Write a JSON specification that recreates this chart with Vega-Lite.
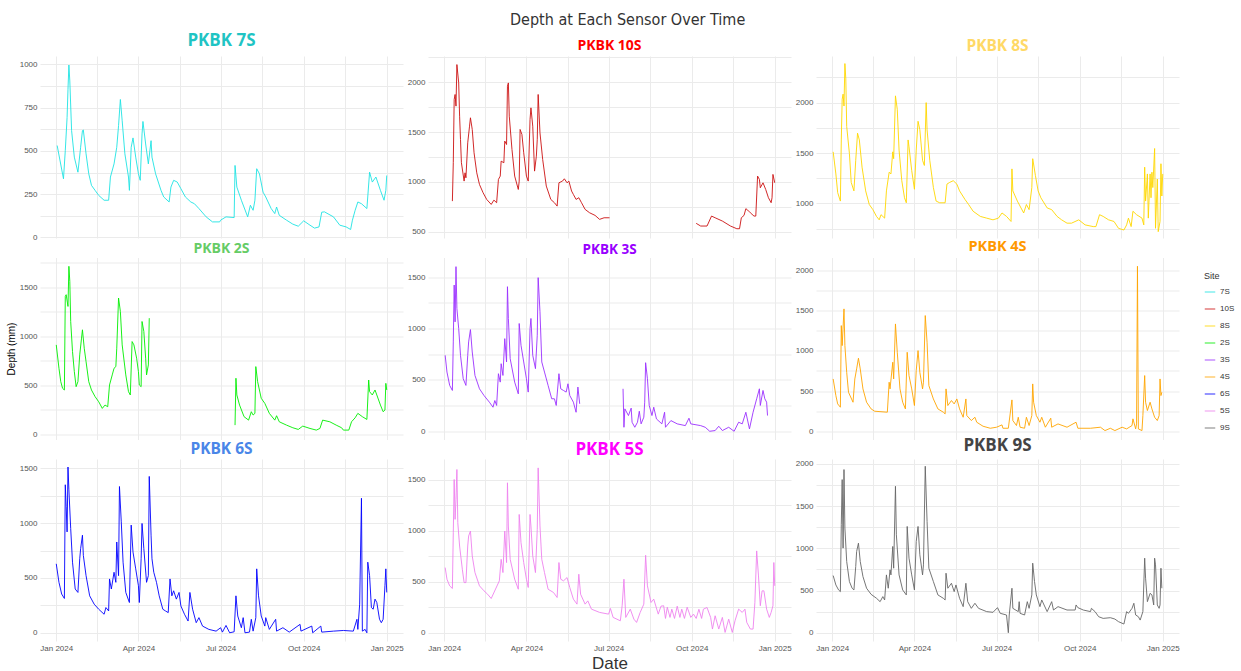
{
"$schema":"https://vega.github.io/schema/vega-lite/v6.json",
"padding":{"left":6,"top":12,"right":5,"bottom":4},
"title":{"text":"Depth at Each Sensor Over Time","font":"Liberation Sans Narrow, Arial Narrow, DejaVu Sans Condensed, Liberation Sans, sans-serif","fontSize":16,"fontWeight":"normal","color":"#333333","anchor":"middle","offset":4,"dx":7},
"config":{
"view":{"stroke":null},
"font":"Liberation Sans",
"axis":{"domain":false,"ticks":false,"gridColor":"#EBEBEB","gridWidth":1,"labelColor":"#555555","labelFontSize":8,"labelPadding":3,"titleFontWeight":"normal"},
"title":{"font":"Open Sans","fontSize":16,"fontWeight":"bold","anchor":"middle","offset":5},
"legend":{"symbolType":"stroke","symbolSize":110,"symbolStrokeWidth":1.5,"symbolOpacity":0.55,"labelFontSize":8,"labelColor":"#333333","titleFontSize":9,"titleFontWeight":"normal","titleColor":"#333333","rowPadding":7}
},
"datasets":{
"s7S":[{"d":"2024-01-02","v":531},{"d":"2024-01-09","v":339},{"d":"2024-01-11","v":502},{"d":"2024-01-13","v":693},{"d":"2024-01-14","v":856},{"d":"2024-01-15","v":996},{"d":"2024-01-16","v":904},{"d":"2024-01-18","v":617},{"d":"2024-01-21","v":464},{"d":"2024-01-25","v":377},{"d":"2024-01-28","v":521},{"d":"2024-01-30","v":617},{"d":"2024-01-31","v":621},{"d":"2024-02-03","v":483},{"d":"2024-02-06","v":368},{"d":"2024-02-09","v":301},{"d":"2024-02-13","v":272},{"d":"2024-02-17","v":243},{"d":"2024-02-23","v":215},{"d":"2024-02-28","v":215},{"d":"2024-03-01","v":349},{"d":"2024-03-05","v":425},{"d":"2024-03-08","v":521},{"d":"2024-03-10","v":646},{"d":"2024-03-12","v":797},{"d":"2024-03-14","v":674},{"d":"2024-03-17","v":483},{"d":"2024-03-21","v":349},{"d":"2024-03-22","v":272},{"d":"2024-03-24","v":521},{"d":"2024-03-26","v":575},{"d":"2024-03-29","v":464},{"d":"2024-04-01","v":368},{"d":"2024-04-03","v":330},{"d":"2024-04-05","v":598},{"d":"2024-04-06","v":670},{"d":"2024-04-09","v":540},{"d":"2024-04-12","v":425},{"d":"2024-04-15","v":559},{"d":"2024-04-16","v":464},{"d":"2024-04-20","v":368},{"d":"2024-04-26","v":272},{"d":"2024-04-29","v":234},{"d":"2024-05-05","v":205},{"d":"2024-05-07","v":291},{"d":"2024-05-10","v":330},{"d":"2024-05-14","v":320},{"d":"2024-05-18","v":282},{"d":"2024-05-23","v":234},{"d":"2024-05-29","v":205},{"d":"2024-06-02","v":195},{"d":"2024-06-07","v":167},{"d":"2024-06-15","v":119},{"d":"2024-06-22","v":90},{"d":"2024-06-30","v":90},{"d":"2024-07-01","v":100},{"d":"2024-07-07","v":119},{"d":"2024-07-16","v":115},{"d":"2024-07-17","v":416},{"d":"2024-07-19","v":291},{"d":"2024-07-24","v":215},{"d":"2024-07-31","v":119},{"d":"2024-08-03","v":186},{"d":"2024-08-06","v":157},{"d":"2024-08-08","v":215},{"d":"2024-08-10","v":397},{"d":"2024-08-13","v":368},{"d":"2024-08-17","v":262},{"d":"2024-08-20","v":234},{"d":"2024-08-26","v":167},{"d":"2024-08-30","v":138},{"d":"2024-09-01","v":176},{"d":"2024-09-04","v":128},{"d":"2024-09-12","v":100},{"d":"2024-09-19","v":77},{"d":"2024-09-25","v":65},{"d":"2024-10-01","v":96},{"d":"2024-10-08","v":71},{"d":"2024-10-13","v":54},{"d":"2024-10-18","v":61},{"d":"2024-10-21","v":146},{"d":"2024-10-24","v":148},{"d":"2024-11-03","v":119},{"d":"2024-11-10","v":71},{"d":"2024-11-17","v":61},{"d":"2024-11-22","v":46},{"d":"2024-11-24","v":100},{"d":"2024-11-27","v":157},{"d":"2024-11-30","v":205},{"d":"2024-12-04","v":195},{"d":"2024-12-10","v":167},{"d":"2024-12-13","v":377},{"d":"2024-12-16","v":320},{"d":"2024-12-20","v":349},{"d":"2024-12-25","v":272},{"d":"2024-12-29","v":215},{"d":"2024-12-31","v":272},{"d":"2025-01-01","v":358}],
"s10S":[{"d":"2024-01-10","v":807},{"d":"2024-01-11","v":1192},{"d":"2024-01-12","v":1826},{"d":"2024-01-13","v":1877},{"d":"2024-01-14","v":1760},{"d":"2024-01-15","v":2177},{"d":"2024-01-17","v":1993},{"d":"2024-01-18","v":1659},{"d":"2024-01-19","v":1425},{"d":"2024-01-20","v":1192},{"d":"2024-01-23","v":1008},{"d":"2024-01-24","v":1091},{"d":"2024-01-25","v":1041},{"d":"2024-01-27","v":1392},{"d":"2024-01-29","v":1559},{"d":"2024-01-30","v":1643},{"d":"2024-02-01","v":1526},{"d":"2024-02-03","v":1292},{"d":"2024-02-06","v":1091},{"d":"2024-02-09","v":974},{"d":"2024-02-13","v":891},{"d":"2024-02-17","v":824},{"d":"2024-02-22","v":774},{"d":"2024-02-25","v":817},{"d":"2024-02-28","v":791},{"d":"2024-03-01","v":1025},{"d":"2024-03-03","v":1058},{"d":"2024-03-04","v":1208},{"d":"2024-03-07","v":1192},{"d":"2024-03-08","v":1409},{"d":"2024-03-10","v":1375},{"d":"2024-03-11","v":1960},{"d":"2024-03-12","v":1993},{"d":"2024-03-13","v":1659},{"d":"2024-03-16","v":1325},{"d":"2024-03-19","v":1058},{"d":"2024-03-23","v":924},{"d":"2024-03-24","v":1008},{"d":"2024-03-25","v":1526},{"d":"2024-03-27","v":1476},{"d":"2024-03-29","v":1292},{"d":"2024-04-01","v":1058},{"d":"2024-04-03","v":1008},{"d":"2024-04-05","v":1626},{"d":"2024-04-06","v":1743},{"d":"2024-04-08","v":1559},{"d":"2024-04-10","v":1108},{"d":"2024-04-12","v":1258},{"d":"2024-04-13","v":1425},{"d":"2024-04-14","v":1877},{"d":"2024-04-16","v":1492},{"d":"2024-04-19","v":1225},{"d":"2024-04-23","v":958},{"d":"2024-04-28","v":824},{"d":"2024-05-02","v":791},{"d":"2024-05-05","v":757},{"d":"2024-05-07","v":991},{"d":"2024-05-11","v":1008},{"d":"2024-05-13","v":1031},{"d":"2024-05-16","v":991},{"d":"2024-05-18","v":1008},{"d":"2024-05-21","v":908},{"d":"2024-05-23","v":874},{"d":"2024-05-26","v":824},{"d":"2024-05-29","v":841},{"d":"2024-06-01","v":791},{"d":"2024-06-05","v":724},{"d":"2024-06-10","v":690},{"d":"2024-06-16","v":664},{"d":"2024-06-21","v":624},{"d":"2024-06-26","v":640},{"d":"2024-07-02","v":640},{"d":"2024-08-15","v":null},{"d":"2024-10-06","v":584},{"d":"2024-10-11","v":557},{"d":"2024-10-18","v":557},{"d":"2024-10-23","v":657},{"d":"2024-10-27","v":640},{"d":"2024-11-04","v":607},{"d":"2024-11-13","v":557},{"d":"2024-11-20","v":530},{"d":"2024-11-23","v":530},{"d":"2024-11-25","v":640},{"d":"2024-11-28","v":664},{"d":"2024-11-30","v":731},{"d":"2024-12-02","v":717},{"d":"2024-12-05","v":690},{"d":"2024-12-09","v":657},{"d":"2024-12-11","v":657},{"d":"2024-12-13","v":1058},{"d":"2024-12-15","v":1025},{"d":"2024-12-16","v":941},{"d":"2024-12-19","v":991},{"d":"2024-12-22","v":924},{"d":"2024-12-25","v":841},{"d":"2024-12-28","v":791},{"d":"2024-12-29","v":841},{"d":"2024-12-30","v":1075},{"d":"2025-01-01","v":991}],
"s8S":[{"d":"2024-01-02","v":1512},{"d":"2024-01-05","v":1293},{"d":"2024-01-07","v":1108},{"d":"2024-01-10","v":1024},{"d":"2024-01-11","v":1630},{"d":"2024-01-12","v":2034},{"d":"2024-01-13","v":2084},{"d":"2024-01-14","v":1966},{"d":"2024-01-15","v":2387},{"d":"2024-01-16","v":2236},{"d":"2024-01-17","v":1764},{"d":"2024-01-20","v":1495},{"d":"2024-01-22","v":1209},{"d":"2024-01-25","v":1125},{"d":"2024-01-27","v":1428},{"d":"2024-01-29","v":1697},{"d":"2024-01-31","v":1630},{"d":"2024-02-03","v":1360},{"d":"2024-02-07","v":1125},{"d":"2024-02-11","v":990},{"d":"2024-02-15","v":939},{"d":"2024-02-19","v":872},{"d":"2024-02-22","v":838},{"d":"2024-02-24","v":889},{"d":"2024-02-28","v":855},{"d":"2024-03-01","v":1125},{"d":"2024-03-04","v":1310},{"d":"2024-03-06","v":1293},{"d":"2024-03-08","v":1512},{"d":"2024-03-09","v":1444},{"d":"2024-03-11","v":2067},{"d":"2024-03-13","v":1933},{"d":"2024-03-15","v":1529},{"d":"2024-03-18","v":1226},{"d":"2024-03-21","v":1057},{"d":"2024-03-23","v":1007},{"d":"2024-03-25","v":1630},{"d":"2024-03-26","v":1562},{"d":"2024-03-29","v":1327},{"d":"2024-04-01","v":1141},{"d":"2024-04-03","v":1529},{"d":"2024-04-05","v":1815},{"d":"2024-04-07","v":1731},{"d":"2024-04-10","v":1428},{"d":"2024-04-12","v":1377},{"d":"2024-04-14","v":2000},{"d":"2024-04-15","v":1731},{"d":"2024-04-18","v":1428},{"d":"2024-04-22","v":1158},{"d":"2024-04-25","v":1024},{"d":"2024-04-29","v":1007},{"d":"2024-05-05","v":1007},{"d":"2024-05-07","v":1192},{"d":"2024-05-10","v":1209},{"d":"2024-05-14","v":1226},{"d":"2024-05-18","v":1192},{"d":"2024-05-21","v":1125},{"d":"2024-05-27","v":1040},{"d":"2024-05-31","v":990},{"d":"2024-06-05","v":923},{"d":"2024-06-13","v":872},{"d":"2024-06-20","v":855},{"d":"2024-06-27","v":838},{"d":"2024-07-03","v":855},{"d":"2024-07-07","v":906},{"d":"2024-07-12","v":872},{"d":"2024-07-17","v":822},{"d":"2024-07-18","v":1343},{"d":"2024-07-19","v":1125},{"d":"2024-07-24","v":1024},{"d":"2024-07-31","v":906},{"d":"2024-08-03","v":990},{"d":"2024-08-06","v":939},{"d":"2024-08-09","v":1158},{"d":"2024-08-10","v":1444},{"d":"2024-08-13","v":1276},{"d":"2024-08-16","v":1125},{"d":"2024-08-19","v":1057},{"d":"2024-08-26","v":956},{"d":"2024-08-31","v":939},{"d":"2024-09-06","v":872},{"d":"2024-09-11","v":838},{"d":"2024-09-17","v":805},{"d":"2024-09-22","v":805},{"d":"2024-09-30","v":838},{"d":"2024-10-07","v":788},{"d":"2024-10-16","v":771},{"d":"2024-10-19","v":771},{"d":"2024-10-23","v":889},{"d":"2024-10-27","v":872},{"d":"2024-11-02","v":838},{"d":"2024-11-08","v":822},{"d":"2024-11-13","v":754},{"d":"2024-11-19","v":737},{"d":"2024-11-22","v":788},{"d":"2024-11-24","v":855},{"d":"2024-11-27","v":771},{"d":"2024-11-29","v":923},{"d":"2024-12-03","v":889},{"d":"2024-12-09","v":855},{"d":"2024-12-11","v":788},{"d":"2024-12-12","v":1360},{"d":"2024-12-13","v":1024},{"d":"2024-12-15","v":1293},{"d":"2024-12-16","v":855},{"d":"2024-12-18","v":1293},{"d":"2024-12-19","v":1057},{"d":"2024-12-20","v":1310},{"d":"2024-12-21","v":1158},{"d":"2024-12-23","v":1545},{"d":"2024-12-24","v":754},{"d":"2024-12-26","v":1242},{"d":"2024-12-27","v":721},{"d":"2024-12-29","v":822},{"d":"2024-12-30","v":1394},{"d":"2024-12-31","v":1074},{"d":"2025-01-01","v":1293}],
"s2S":[{"d":"2024-01-01","v":912},{"d":"2024-01-04","v":673},{"d":"2024-01-06","v":536},{"d":"2024-01-08","v":468},{"d":"2024-01-10","v":451},{"d":"2024-01-11","v":1408},{"d":"2024-01-12","v":1425},{"d":"2024-01-14","v":1305},{"d":"2024-01-15","v":1715},{"d":"2024-01-16","v":1561},{"d":"2024-01-17","v":1151},{"d":"2024-01-19","v":844},{"d":"2024-01-21","v":639},{"d":"2024-01-23","v":485},{"d":"2024-01-25","v":536},{"d":"2024-01-27","v":810},{"d":"2024-01-29","v":981},{"d":"2024-01-30","v":1066},{"d":"2024-02-01","v":878},{"d":"2024-02-03","v":741},{"d":"2024-02-06","v":536},{"d":"2024-02-09","v":451},{"d":"2024-02-13","v":383},{"d":"2024-02-17","v":331},{"d":"2024-02-21","v":263},{"d":"2024-02-24","v":297},{"d":"2024-02-27","v":280},{"d":"2024-02-29","v":502},{"d":"2024-03-03","v":605},{"d":"2024-03-05","v":673},{"d":"2024-03-07","v":690},{"d":"2024-03-08","v":878},{"d":"2024-03-10","v":1391},{"d":"2024-03-12","v":1254},{"d":"2024-03-14","v":912},{"d":"2024-03-18","v":605},{"d":"2024-03-21","v":434},{"d":"2024-03-23","v":400},{"d":"2024-03-25","v":946},{"d":"2024-03-27","v":912},{"d":"2024-03-30","v":776},{"d":"2024-04-01","v":639},{"d":"2024-04-02","v":502},{"d":"2024-04-04","v":485},{"d":"2024-04-05","v":1151},{"d":"2024-04-07","v":1049},{"d":"2024-04-09","v":776},{"d":"2024-04-10","v":605},{"d":"2024-04-12","v":707},{"d":"2024-04-13","v":1185},{"d":"2024-05-30","v":null},{"d":"2024-07-17","v":92},{"d":"2024-07-18","v":571},{"d":"2024-07-19","v":400},{"d":"2024-07-22","v":297},{"d":"2024-07-27","v":178},{"d":"2024-08-01","v":143},{"d":"2024-08-04","v":229},{"d":"2024-08-06","v":195},{"d":"2024-08-08","v":212},{"d":"2024-08-09","v":690},{"d":"2024-08-11","v":536},{"d":"2024-08-15","v":366},{"d":"2024-08-19","v":314},{"d":"2024-08-24","v":212},{"d":"2024-08-30","v":143},{"d":"2024-09-01","v":188},{"d":"2024-09-04","v":126},{"d":"2024-09-12","v":92},{"d":"2024-09-19","v":65},{"d":"2024-09-25","v":48},{"d":"2024-09-30","v":82},{"d":"2024-10-08","v":58},{"d":"2024-10-15","v":41},{"d":"2024-10-19","v":58},{"d":"2024-10-22","v":143},{"d":"2024-10-30","v":126},{"d":"2024-11-06","v":92},{"d":"2024-11-12","v":65},{"d":"2024-11-14","v":41},{"d":"2024-11-20","v":41},{"d":"2024-11-23","v":126},{"d":"2024-11-27","v":167},{"d":"2024-11-30","v":212},{"d":"2024-12-05","v":178},{"d":"2024-12-10","v":150},{"d":"2024-12-12","v":553},{"d":"2024-12-13","v":434},{"d":"2024-12-16","v":400},{"d":"2024-12-19","v":451},{"d":"2024-12-21","v":400},{"d":"2024-12-25","v":297},{"d":"2024-12-28","v":229},{"d":"2024-12-30","v":246},{"d":"2024-12-31","v":519},{"d":"2025-01-01","v":451}],
"s3S":[{"d":"2024-01-02","v":739},{"d":"2024-01-04","v":576},{"d":"2024-01-07","v":446},{"d":"2024-01-10","v":397},{"d":"2024-01-11","v":869},{"d":"2024-01-12","v":1422},{"d":"2024-01-13","v":1064},{"d":"2024-01-14","v":1601},{"d":"2024-01-15","v":1194},{"d":"2024-01-17","v":999},{"d":"2024-01-19","v":739},{"d":"2024-01-22","v":511},{"d":"2024-01-25","v":446},{"d":"2024-01-27","v":739},{"d":"2024-01-28","v":869},{"d":"2024-01-30","v":989},{"d":"2024-02-01","v":771},{"d":"2024-02-04","v":543},{"d":"2024-02-09","v":413},{"d":"2024-02-14","v":348},{"d":"2024-02-20","v":283},{"d":"2024-02-24","v":234},{"d":"2024-02-26","v":299},{"d":"2024-02-28","v":251},{"d":"2024-03-01","v":560},{"d":"2024-03-03","v":478},{"d":"2024-03-04","v":657},{"d":"2024-03-06","v":543},{"d":"2024-03-08","v":901},{"d":"2024-03-10","v":674},{"d":"2024-03-11","v":1406},{"d":"2024-03-12","v":1097},{"d":"2024-03-14","v":706},{"d":"2024-03-19","v":478},{"d":"2024-03-23","v":364},{"d":"2024-03-24","v":1048},{"d":"2024-03-26","v":836},{"d":"2024-03-29","v":674},{"d":"2024-04-01","v":511},{"d":"2024-04-03","v":381},{"d":"2024-04-05","v":999},{"d":"2024-04-06","v":1097},{"d":"2024-04-08","v":739},{"d":"2024-04-11","v":609},{"d":"2024-04-13","v":934},{"d":"2024-04-14","v":1494},{"d":"2024-04-16","v":1162},{"d":"2024-04-18","v":674},{"d":"2024-04-21","v":576},{"d":"2024-04-25","v":446},{"d":"2024-04-29","v":316},{"d":"2024-05-02","v":316},{"d":"2024-05-04","v":251},{"d":"2024-05-07","v":560},{"d":"2024-05-09","v":413},{"d":"2024-05-12","v":397},{"d":"2024-05-15","v":381},{"d":"2024-05-17","v":462},{"d":"2024-05-19","v":348},{"d":"2024-05-23","v":283},{"d":"2024-05-26","v":185},{"d":"2024-05-28","v":430},{"d":"2024-05-30","v":267},{"d":"2024-06-24","v":null},{"d":"2024-07-17","v":413},{"d":"2024-07-18","v":39},{"d":"2024-07-19","v":218},{"d":"2024-07-23","v":153},{"d":"2024-07-26","v":225},{"d":"2024-07-27","v":88},{"d":"2024-07-30","v":39},{"d":"2024-08-02","v":88},{"d":"2024-08-04","v":195},{"d":"2024-08-06","v":72},{"d":"2024-08-09","v":137},{"d":"2024-08-10","v":283},{"d":"2024-08-11","v":667},{"d":"2024-08-13","v":511},{"d":"2024-08-15","v":251},{"d":"2024-08-18","v":153},{"d":"2024-08-20","v":234},{"d":"2024-08-23","v":120},{"d":"2024-08-29","v":72},{"d":"2024-09-01","v":185},{"d":"2024-09-02","v":39},{"d":"2024-09-08","v":104},{"d":"2024-09-15","v":72},{"d":"2024-09-24","v":55},{"d":"2024-09-28","v":127},{"d":"2024-09-30","v":72},{"d":"2024-10-11","v":55},{"d":"2024-10-16","v":39},{"d":"2024-10-21","v":0},{"d":"2024-10-27","v":7},{"d":"2024-10-31","v":49},{"d":"2024-11-04","v":7},{"d":"2024-11-11","v":39},{"d":"2024-11-17","v":0},{"d":"2024-11-22","v":88},{"d":"2024-11-26","v":72},{"d":"2024-11-30","v":185},{"d":"2024-12-04","v":23},{"d":"2024-12-08","v":185},{"d":"2024-12-12","v":316},{"d":"2024-12-15","v":413},{"d":"2024-12-16","v":251},{"d":"2024-12-19","v":397},{"d":"2024-12-21","v":316},{"d":"2024-12-23","v":283},{"d":"2024-12-24","v":153}],
"s4S":[{"d":"2024-01-02","v":651},{"d":"2024-01-05","v":444},{"d":"2024-01-07","v":340},{"d":"2024-01-10","v":299},{"d":"2024-01-11","v":1315},{"d":"2024-01-12","v":1066},{"d":"2024-01-14","v":1523},{"d":"2024-01-15","v":1066},{"d":"2024-01-17","v":734},{"d":"2024-01-19","v":485},{"d":"2024-01-24","v":361},{"d":"2024-01-26","v":651},{"d":"2024-01-28","v":776},{"d":"2024-01-30","v":909},{"d":"2024-02-01","v":776},{"d":"2024-02-04","v":527},{"d":"2024-02-08","v":361},{"d":"2024-02-13","v":278},{"d":"2024-02-17","v":249},{"d":"2024-03-02","v":237},{"d":"2024-03-04","v":610},{"d":"2024-03-05","v":527},{"d":"2024-03-08","v":859},{"d":"2024-03-09","v":651},{"d":"2024-03-11","v":1336},{"d":"2024-03-13","v":983},{"d":"2024-03-16","v":527},{"d":"2024-03-19","v":361},{"d":"2024-03-22","v":278},{"d":"2024-03-24","v":983},{"d":"2024-03-26","v":693},{"d":"2024-03-29","v":527},{"d":"2024-04-01","v":320},{"d":"2024-04-03","v":755},{"d":"2024-04-05","v":1004},{"d":"2024-04-07","v":734},{"d":"2024-04-10","v":527},{"d":"2024-04-11","v":610},{"d":"2024-04-13","v":1440},{"d":"2024-04-15","v":1108},{"d":"2024-04-17","v":568},{"d":"2024-04-22","v":402},{"d":"2024-04-27","v":278},{"d":"2024-05-03","v":237},{"d":"2024-05-05","v":216},{"d":"2024-05-06","v":527},{"d":"2024-05-08","v":320},{"d":"2024-05-12","v":382},{"d":"2024-05-15","v":340},{"d":"2024-05-18","v":402},{"d":"2024-05-21","v":278},{"d":"2024-05-25","v":174},{"d":"2024-05-28","v":402},{"d":"2024-05-29","v":195},{"d":"2024-06-03","v":133},{"d":"2024-06-07","v":174},{"d":"2024-06-09","v":112},{"d":"2024-06-16","v":62},{"d":"2024-06-24","v":37},{"d":"2024-07-01","v":50},{"d":"2024-07-07","v":79},{"d":"2024-07-08","v":37},{"d":"2024-07-14","v":37},{"d":"2024-07-18","v":390},{"d":"2024-07-19","v":133},{"d":"2024-07-23","v":71},{"d":"2024-07-25","v":174},{"d":"2024-07-27","v":50},{"d":"2024-08-01","v":37},{"d":"2024-08-03","v":174},{"d":"2024-08-06","v":71},{"d":"2024-08-09","v":195},{"d":"2024-08-10","v":589},{"d":"2024-08-11","v":361},{"d":"2024-08-14","v":195},{"d":"2024-08-18","v":112},{"d":"2024-08-20","v":174},{"d":"2024-08-24","v":50},{"d":"2024-08-30","v":162},{"d":"2024-08-31","v":50},{"d":"2024-09-07","v":91},{"d":"2024-09-17","v":50},{"d":"2024-09-27","v":112},{"d":"2024-09-29","v":37},{"d":"2024-10-13","v":37},{"d":"2024-10-24","v":50},{"d":"2024-10-29","v":8},{"d":"2024-11-04","v":37},{"d":"2024-11-09","v":8},{"d":"2024-11-17","v":50},{"d":"2024-11-22","v":29},{"d":"2024-11-28","v":71},{"d":"2024-11-29","v":154},{"d":"2024-12-02","v":29},{"d":"2024-12-03","v":91},{"d":"2024-12-04","v":2054},{"d":"2024-12-05","v":29},{"d":"2024-12-09","v":8},{"d":"2024-12-10","v":195},{"d":"2024-12-12","v":693},{"d":"2024-12-13","v":361},{"d":"2024-12-15","v":257},{"d":"2024-12-18","v":361},{"d":"2024-12-20","v":278},{"d":"2024-12-23","v":174},{"d":"2024-12-26","v":133},{"d":"2024-12-28","v":195},{"d":"2024-12-29","v":651},{"d":"2024-12-30","v":444},{"d":"2024-12-31","v":485}],
"s6S":[{"d":"2024-01-01","v":629},{"d":"2024-01-04","v":460},{"d":"2024-01-07","v":353},{"d":"2024-01-10","v":313},{"d":"2024-01-11","v":1350},{"d":"2024-01-12","v":1150},{"d":"2024-01-13","v":920},{"d":"2024-01-14","v":1512},{"d":"2024-01-15","v":1304},{"d":"2024-01-17","v":951},{"d":"2024-01-19","v":644},{"d":"2024-01-22","v":399},{"d":"2024-01-25","v":368},{"d":"2024-01-27","v":675},{"d":"2024-01-28","v":767},{"d":"2024-01-30","v":890},{"d":"2024-01-31","v":706},{"d":"2024-02-03","v":521},{"d":"2024-02-07","v":337},{"d":"2024-02-12","v":261},{"d":"2024-02-17","v":215},{"d":"2024-02-23","v":169},{"d":"2024-02-25","v":230},{"d":"2024-02-28","v":199},{"d":"2024-02-29","v":491},{"d":"2024-03-02","v":399},{"d":"2024-03-05","v":552},{"d":"2024-03-07","v":460},{"d":"2024-03-08","v":828},{"d":"2024-03-10","v":521},{"d":"2024-03-11","v":1334},{"d":"2024-03-13","v":1012},{"d":"2024-03-15","v":644},{"d":"2024-03-18","v":368},{"d":"2024-03-22","v":276},{"d":"2024-03-24","v":982},{"d":"2024-03-26","v":736},{"d":"2024-03-29","v":583},{"d":"2024-04-01","v":429},{"d":"2024-04-02","v":276},{"d":"2024-04-04","v":675},{"d":"2024-04-05","v":997},{"d":"2024-04-07","v":767},{"d":"2024-04-10","v":460},{"d":"2024-04-12","v":521},{"d":"2024-04-13","v":1426},{"d":"2024-04-15","v":890},{"d":"2024-04-16","v":675},{"d":"2024-04-18","v":552},{"d":"2024-04-21","v":460},{"d":"2024-04-24","v":337},{"d":"2024-04-28","v":215},{"d":"2024-05-01","v":199},{"d":"2024-05-04","v":184},{"d":"2024-05-06","v":491},{"d":"2024-05-08","v":337},{"d":"2024-05-10","v":383},{"d":"2024-05-13","v":307},{"d":"2024-05-16","v":368},{"d":"2024-05-18","v":245},{"d":"2024-05-22","v":169},{"d":"2024-05-26","v":107},{"d":"2024-05-28","v":368},{"d":"2024-05-31","v":215},{"d":"2024-06-04","v":92},{"d":"2024-06-07","v":138},{"d":"2024-06-11","v":61},{"d":"2024-06-18","v":31},{"d":"2024-06-26","v":15},{"d":"2024-07-01","v":46},{"d":"2024-07-03","v":6},{"d":"2024-07-07","v":67},{"d":"2024-07-11","v":0},{"d":"2024-07-16","v":9},{"d":"2024-07-18","v":337},{"d":"2024-07-20","v":153},{"d":"2024-07-24","v":46},{"d":"2024-07-26","v":138},{"d":"2024-07-28","v":0},{"d":"2024-08-02","v":6},{"d":"2024-08-04","v":123},{"d":"2024-08-06","v":15},{"d":"2024-08-09","v":138},{"d":"2024-08-10","v":583},{"d":"2024-08-12","v":337},{"d":"2024-08-15","v":153},{"d":"2024-08-19","v":61},{"d":"2024-08-20","v":138},{"d":"2024-08-24","v":31},{"d":"2024-08-31","v":123},{"d":"2024-09-01","v":15},{"d":"2024-09-08","v":46},{"d":"2024-09-15","v":6},{"d":"2024-09-27","v":77},{"d":"2024-09-28","v":15},{"d":"2024-10-10","v":61},{"d":"2024-10-11","v":0},{"d":"2024-10-20","v":61},{"d":"2024-10-21","v":6},{"d":"2024-11-03","v":15},{"d":"2024-11-14","v":21},{"d":"2024-11-25","v":15},{"d":"2024-11-29","v":123},{"d":"2024-11-30","v":31},{"d":"2024-12-02","v":261},{"d":"2024-12-04","v":1227},{"d":"2024-12-05","v":15},{"d":"2024-12-08","v":31},{"d":"2024-12-10","v":0},{"d":"2024-12-11","v":644},{"d":"2024-12-13","v":521},{"d":"2024-12-15","v":230},{"d":"2024-12-17","v":215},{"d":"2024-12-19","v":307},{"d":"2024-12-21","v":276},{"d":"2024-12-24","v":123},{"d":"2024-12-26","v":92},{"d":"2024-12-28","v":123},{"d":"2024-12-30","v":429},{"d":"2024-12-31","v":583},{"d":"2025-01-01","v":368}],
"s5S":[{"d":"2024-01-02","v":638},{"d":"2024-01-04","v":524},{"d":"2024-01-07","v":459},{"d":"2024-01-10","v":433},{"d":"2024-01-11","v":980},{"d":"2024-01-12","v":1500},{"d":"2024-01-13","v":1110},{"d":"2024-01-14","v":1305},{"d":"2024-01-15","v":1598},{"d":"2024-01-16","v":1077},{"d":"2024-01-18","v":849},{"d":"2024-01-21","v":622},{"d":"2024-01-23","v":491},{"d":"2024-01-25","v":491},{"d":"2024-01-27","v":849},{"d":"2024-01-28","v":947},{"d":"2024-01-30","v":996},{"d":"2024-02-01","v":752},{"d":"2024-02-04","v":589},{"d":"2024-02-09","v":459},{"d":"2024-02-14","v":410},{"d":"2024-02-18","v":377},{"d":"2024-02-22","v":335},{"d":"2024-03-02","v":508},{"d":"2024-03-04","v":719},{"d":"2024-03-06","v":589},{"d":"2024-03-08","v":996},{"d":"2024-03-10","v":687},{"d":"2024-03-11","v":1468},{"d":"2024-03-12","v":1045},{"d":"2024-03-14","v":719},{"d":"2024-03-19","v":524},{"d":"2024-03-23","v":426},{"d":"2024-03-24","v":1158},{"d":"2024-03-26","v":882},{"d":"2024-03-29","v":687},{"d":"2024-04-01","v":524},{"d":"2024-04-03","v":443},{"d":"2024-04-05","v":1158},{"d":"2024-04-06","v":1045},{"d":"2024-04-08","v":752},{"d":"2024-04-11","v":589},{"d":"2024-04-13","v":1012},{"d":"2024-04-14","v":1614},{"d":"2024-04-16","v":1045},{"d":"2024-04-18","v":719},{"d":"2024-04-21","v":589},{"d":"2024-04-25","v":426},{"d":"2024-05-01","v":394},{"d":"2024-05-05","v":345},{"d":"2024-05-07","v":687},{"d":"2024-05-09","v":524},{"d":"2024-05-12","v":508},{"d":"2024-05-16","v":540},{"d":"2024-05-19","v":443},{"d":"2024-05-23","v":329},{"d":"2024-05-27","v":280},{"d":"2024-05-29","v":573},{"d":"2024-05-31","v":377},{"d":"2024-06-05","v":280},{"d":"2024-06-08","v":312},{"d":"2024-06-12","v":231},{"d":"2024-06-21","v":199},{"d":"2024-07-01","v":182},{"d":"2024-07-03","v":238},{"d":"2024-07-06","v":150},{"d":"2024-07-14","v":117},{"d":"2024-07-16","v":264},{"d":"2024-07-18","v":524},{"d":"2024-07-20","v":150},{"d":"2024-07-25","v":231},{"d":"2024-07-29","v":133},{"d":"2024-08-01","v":101},{"d":"2024-08-05","v":199},{"d":"2024-08-09","v":280},{"d":"2024-08-11","v":758},{"d":"2024-08-13","v":459},{"d":"2024-08-17","v":296},{"d":"2024-08-20","v":329},{"d":"2024-08-25","v":182},{"d":"2024-08-28","v":260},{"d":"2024-08-31","v":264},{"d":"2024-09-02","v":140},{"d":"2024-09-04","v":250},{"d":"2024-09-07","v":150},{"d":"2024-09-09","v":231},{"d":"2024-09-12","v":140},{"d":"2024-09-15","v":260},{"d":"2024-09-18","v":150},{"d":"2024-09-20","v":231},{"d":"2024-09-23","v":140},{"d":"2024-09-26","v":250},{"d":"2024-09-30","v":150},{"d":"2024-10-03","v":182},{"d":"2024-10-06","v":140},{"d":"2024-10-09","v":230},{"d":"2024-10-12","v":140},{"d":"2024-10-14","v":231},{"d":"2024-10-18","v":247},{"d":"2024-10-22","v":150},{"d":"2024-10-24","v":36},{"d":"2024-10-27","v":166},{"d":"2024-10-31","v":36},{"d":"2024-11-04","v":150},{"d":"2024-11-07","v":3},{"d":"2024-11-11","v":133},{"d":"2024-11-15","v":3},{"d":"2024-11-18","v":117},{"d":"2024-11-22","v":231},{"d":"2024-11-26","v":199},{"d":"2024-11-29","v":231},{"d":"2024-12-01","v":101},{"d":"2024-12-05","v":36},{"d":"2024-12-08","v":36},{"d":"2024-12-10","v":296},{"d":"2024-12-12","v":801},{"d":"2024-12-14","v":556},{"d":"2024-12-16","v":264},{"d":"2024-12-18","v":410},{"d":"2024-12-20","v":410},{"d":"2024-12-23","v":231},{"d":"2024-12-26","v":150},{"d":"2024-12-28","v":199},{"d":"2024-12-30","v":264},{"d":"2024-12-31","v":687},{"d":"2025-01-01","v":459}],
"s9S":[{"d":"2024-01-02","v":677},{"d":"2024-01-05","v":566},{"d":"2024-01-08","v":507},{"d":"2024-01-10","v":487},{"d":"2024-01-11","v":1279},{"d":"2024-01-12","v":1814},{"d":"2024-01-13","v":1002},{"d":"2024-01-14","v":1933},{"d":"2024-01-15","v":1240},{"d":"2024-01-17","v":844},{"d":"2024-01-20","v":606},{"d":"2024-01-23","v":527},{"d":"2024-01-25","v":507},{"d":"2024-01-27","v":784},{"d":"2024-01-28","v":962},{"d":"2024-01-30","v":1061},{"d":"2024-02-01","v":844},{"d":"2024-02-04","v":665},{"d":"2024-02-08","v":527},{"d":"2024-02-13","v":455},{"d":"2024-02-19","v":408},{"d":"2024-02-23","v":368},{"d":"2024-02-26","v":428},{"d":"2024-02-28","v":388},{"d":"2024-03-01","v":685},{"d":"2024-03-03","v":527},{"d":"2024-03-05","v":745},{"d":"2024-03-06","v":685},{"d":"2024-03-08","v":1022},{"d":"2024-03-09","v":764},{"d":"2024-03-11","v":1735},{"d":"2024-03-12","v":1160},{"d":"2024-03-15","v":685},{"d":"2024-03-19","v":507},{"d":"2024-03-23","v":448},{"d":"2024-03-24","v":1259},{"d":"2024-03-26","v":883},{"d":"2024-03-29","v":685},{"d":"2024-04-01","v":507},{"d":"2024-04-03","v":1081},{"d":"2024-04-05","v":1259},{"d":"2024-04-07","v":923},{"d":"2024-04-10","v":685},{"d":"2024-04-11","v":804},{"d":"2024-04-13","v":1972},{"d":"2024-04-15","v":1319},{"d":"2024-04-17","v":764},{"d":"2024-04-22","v":606},{"d":"2024-04-27","v":448},{"d":"2024-05-03","v":408},{"d":"2024-05-05","v":388},{"d":"2024-05-06","v":705},{"d":"2024-05-08","v":527},{"d":"2024-05-12","v":586},{"d":"2024-05-15","v":487},{"d":"2024-05-17","v":566},{"d":"2024-05-21","v":408},{"d":"2024-05-25","v":309},{"d":"2024-05-28","v":586},{"d":"2024-05-30","v":368},{"d":"2024-06-03","v":289},{"d":"2024-06-07","v":349},{"d":"2024-06-11","v":289},{"d":"2024-06-20","v":250},{"d":"2024-06-27","v":242},{"d":"2024-07-02","v":297},{"d":"2024-07-05","v":230},{"d":"2024-07-12","v":210},{"d":"2024-07-14","v":0},{"d":"2024-07-15","v":210},{"d":"2024-07-18","v":527},{"d":"2024-07-19","v":289},{"d":"2024-07-25","v":250},{"d":"2024-07-26","v":368},{"d":"2024-07-27","v":230},{"d":"2024-08-01","v":210},{"d":"2024-08-04","v":368},{"d":"2024-08-06","v":289},{"d":"2024-08-09","v":448},{"d":"2024-08-10","v":824},{"d":"2024-08-12","v":606},{"d":"2024-08-14","v":448},{"d":"2024-08-18","v":309},{"d":"2024-08-20","v":388},{"d":"2024-08-26","v":250},{"d":"2024-08-31","v":368},{"d":"2024-09-02","v":269},{"d":"2024-09-07","v":309},{"d":"2024-09-17","v":269},{"d":"2024-09-26","v":269},{"d":"2024-09-27","v":329},{"d":"2024-09-29","v":297},{"d":"2024-10-05","v":269},{"d":"2024-10-13","v":250},{"d":"2024-10-14","v":289},{"d":"2024-10-18","v":250},{"d":"2024-10-22","v":190},{"d":"2024-10-27","v":170},{"d":"2024-11-04","v":178},{"d":"2024-11-09","v":162},{"d":"2024-11-13","v":131},{"d":"2024-11-19","v":103},{"d":"2024-11-22","v":250},{"d":"2024-11-24","v":230},{"d":"2024-11-28","v":289},{"d":"2024-11-30","v":349},{"d":"2024-12-02","v":210},{"d":"2024-12-05","v":190},{"d":"2024-12-07","v":150},{"d":"2024-12-10","v":250},{"d":"2024-12-12","v":883},{"d":"2024-12-13","v":646},{"d":"2024-12-15","v":368},{"d":"2024-12-18","v":467},{"d":"2024-12-20","v":448},{"d":"2024-12-22","v":329},{"d":"2024-12-23","v":883},{"d":"2024-12-24","v":804},{"d":"2024-12-26","v":329},{"d":"2024-12-28","v":289},{"d":"2024-12-29","v":329},{"d":"2024-12-30","v":764},{"d":"2024-12-31","v":527}]
},
"columns":3,
"spacing":{"row":19.5,"column":25},
"bounds":"flush",
"resolve":{"scale":{"x":"independent","y":"independent","color":"shared"}},
"concat":[
{"data":{"name":"s7S"},"title":{"text":"PKBK 7S","color":"#1FC4C4","fontSize":17,"offset":6},"width":363,"height":182,"mark":{"type":"line","strokeWidth":0.9,"invalid":"break-paths-show-domains"},
"encoding":{"x":{"field":"d","type":"temporal","scale":{"type":"utc","domain":[{"year":2023,"month":12,"date":14,"utc":true},{"year":2025,"month":1,"date":19,"utc":true}]},"axis":{"values":[{"year":2024,"month":1,"date":1,"utc":true},{"year":2024,"month":2,"date":15,"hours":12,"utc":true},{"year":2024,"month":4,"date":1,"utc":true},{"year":2024,"month":5,"date":16,"hours":12,"utc":true},{"year":2024,"month":7,"date":1,"utc":true},{"year":2024,"month":8,"date":16,"utc":true},{"year":2024,"month":10,"date":1,"utc":true},{"year":2024,"month":11,"date":16,"utc":true},{"year":2025,"month":1,"date":1,"utc":true}],"labels":false,"title":null}},
"y":{"field":"v","type":"quantitative","scale":{"domain":[-3,1048],"nice":false,"zero":false},"axis":{"values":[0,125,250,375,500,625,750,875,1000],"format":"d","labelExpr":"datum.value % 250 == 0 ? datum.label : ''","title":null}},
"color":{"datum":"7S","title":"Site","scale":{"domain":["7S","10S","8S","2S","3S","4S","6S","5S","9S"],"range":["#1EE3E3","#CC1111","#FFD700","#00EE00","#9B30FF","#FFA500","#0000FF","#EE82EE","#666666"]},"legend":{"orient":"none","legendX":1164,"legendY":216}}}},
{"data":{"name":"s10S"},"title":{"text":"PKBK 10S","color":"#FF0000","fontSize":14,"offset":3.5},"width":363,"height":182,"mark":{"type":"line","strokeWidth":0.9,"invalid":"break-paths-show-domains"},
"encoding":{"x":{"field":"d","type":"temporal","scale":{"type":"utc","domain":[{"year":2023,"month":12,"date":14,"utc":true},{"year":2025,"month":1,"date":19,"utc":true}]},"axis":{"values":[{"year":2024,"month":1,"date":1,"utc":true},{"year":2024,"month":2,"date":15,"hours":12,"utc":true},{"year":2024,"month":4,"date":1,"utc":true},{"year":2024,"month":5,"date":16,"hours":12,"utc":true},{"year":2024,"month":7,"date":1,"utc":true},{"year":2024,"month":8,"date":16,"utc":true},{"year":2024,"month":10,"date":1,"utc":true},{"year":2024,"month":11,"date":16,"utc":true},{"year":2025,"month":1,"date":1,"utc":true}],"labels":false,"title":null}},
"y":{"field":"v","type":"quantitative","scale":{"domain":[437,2263],"nice":false,"zero":false},"axis":{"values":[500,750,1000,1250,1500,1750,2000,2250],"format":"d","labelExpr":"datum.value % 500 == 0 ? datum.label : ''","title":null}},
"color":{"datum":"10S","title":"Site","scale":{"domain":["7S","10S","8S","2S","3S","4S","6S","5S","9S"],"range":["#1EE3E3","#CC1111","#FFD700","#00EE00","#9B30FF","#FFA500","#0000FF","#EE82EE","#666666"]},"legend":{"orient":"none","legendX":1164,"legendY":216}}}},
{"data":{"name":"s8S"},"title":{"text":"PKBK 8S","color":"#FFD966","fontSize":15.5,"offset":2},"width":363,"height":182,"mark":{"type":"line","strokeWidth":0.9,"invalid":"break-paths-show-domains"},
"encoding":{"x":{"field":"d","type":"temporal","scale":{"type":"utc","domain":[{"year":2023,"month":12,"date":14,"utc":true},{"year":2025,"month":1,"date":19,"utc":true}]},"axis":{"values":[{"year":2024,"month":1,"date":1,"utc":true},{"year":2024,"month":2,"date":15,"hours":12,"utc":true},{"year":2024,"month":4,"date":1,"utc":true},{"year":2024,"month":5,"date":16,"hours":12,"utc":true},{"year":2024,"month":7,"date":1,"utc":true},{"year":2024,"month":8,"date":16,"utc":true},{"year":2024,"month":10,"date":1,"utc":true},{"year":2024,"month":11,"date":16,"utc":true},{"year":2025,"month":1,"date":1,"utc":true}],"labels":false,"title":null}},
"y":{"field":"v","type":"quantitative","scale":{"domain":[658,2462],"nice":false,"zero":false},"axis":{"values":[750,1000,1250,1500,1750,2000,2250],"format":"d","labelExpr":"datum.value % 500 == 0 ? datum.label : ''","title":null}},
"color":{"datum":"8S","title":"Site","scale":{"domain":["7S","10S","8S","2S","3S","4S","6S","5S","9S"],"range":["#1EE3E3","#CC1111","#FFD700","#00EE00","#9B30FF","#FFA500","#0000FF","#EE82EE","#666666"]},"legend":{"orient":"none","legendX":1164,"legendY":216}}}},
{"data":{"name":"s2S"},"title":{"text":"PKBK 2S","color":"#66CC66","fontSize":14,"offset":1.5},"width":363,"height":182,"mark":{"type":"line","strokeWidth":0.9,"invalid":"break-paths-show-domains"},
"encoding":{"x":{"field":"d","type":"temporal","scale":{"type":"utc","domain":[{"year":2023,"month":12,"date":14,"utc":true},{"year":2025,"month":1,"date":19,"utc":true}]},"axis":{"values":[{"year":2024,"month":1,"date":1,"utc":true},{"year":2024,"month":2,"date":15,"hours":12,"utc":true},{"year":2024,"month":4,"date":1,"utc":true},{"year":2024,"month":5,"date":16,"hours":12,"utc":true},{"year":2024,"month":7,"date":1,"utc":true},{"year":2024,"month":8,"date":16,"utc":true},{"year":2024,"month":10,"date":1,"utc":true},{"year":2024,"month":11,"date":16,"utc":true},{"year":2025,"month":1,"date":1,"utc":true}],"labels":false,"title":null}},
"y":{"field":"v","type":"quantitative","scale":{"domain":[-55,1805],"nice":false,"zero":false},"axis":{"values":[0,250,500,750,1000,1250,1500,1750],"format":"d","labelExpr":"datum.value % 500 == 0 ? datum.label : ''","title":"Depth (mm)","titleFontSize":10,"titleColor":"#000000","titlePadding":3}},
"color":{"datum":"2S","title":"Site","scale":{"domain":["7S","10S","8S","2S","3S","4S","6S","5S","9S"],"range":["#1EE3E3","#CC1111","#FFD700","#00EE00","#9B30FF","#FFA500","#0000FF","#EE82EE","#666666"]},"legend":{"orient":"none","legendX":1164,"legendY":216}}}},
{"data":{"name":"s3S"},"title":{"text":"PKBK 3S","color":"#9900FF","fontSize":13.5,"offset":1},"width":363,"height":182,"mark":{"type":"line","strokeWidth":0.9,"invalid":"break-paths-show-domains"},
"encoding":{"x":{"field":"d","type":"temporal","scale":{"type":"utc","domain":[{"year":2023,"month":12,"date":14,"utc":true},{"year":2025,"month":1,"date":19,"utc":true}]},"axis":{"values":[{"year":2024,"month":1,"date":1,"utc":true},{"year":2024,"month":2,"date":15,"hours":12,"utc":true},{"year":2024,"month":4,"date":1,"utc":true},{"year":2024,"month":5,"date":16,"hours":12,"utc":true},{"year":2024,"month":7,"date":1,"utc":true},{"year":2024,"month":8,"date":16,"utc":true},{"year":2024,"month":10,"date":1,"utc":true},{"year":2024,"month":11,"date":16,"utc":true},{"year":2025,"month":1,"date":1,"utc":true}],"labels":false,"title":null}},
"y":{"field":"v","type":"quantitative","scale":{"domain":[-80,1690],"nice":false,"zero":false},"axis":{"values":[0,250,500,750,1000,1250,1500],"format":"d","labelExpr":"datum.value % 500 == 0 ? datum.label : ''","title":null}},
"color":{"datum":"3S","title":"Site","scale":{"domain":["7S","10S","8S","2S","3S","4S","6S","5S","9S"],"range":["#1EE3E3","#CC1111","#FFD700","#00EE00","#9B30FF","#FFA500","#0000FF","#EE82EE","#666666"]},"legend":{"orient":"none","legendX":1164,"legendY":216}}}},
{"data":{"name":"s4S"},"title":{"text":"PKBK 4S","color":"#FF9900","fontSize":14.5,"offset":3},"width":363,"height":182,"mark":{"type":"line","strokeWidth":0.9,"invalid":"break-paths-show-domains"},
"encoding":{"x":{"field":"d","type":"temporal","scale":{"type":"utc","domain":[{"year":2023,"month":12,"date":14,"utc":true},{"year":2025,"month":1,"date":19,"utc":true}]},"axis":{"values":[{"year":2024,"month":1,"date":1,"utc":true},{"year":2024,"month":2,"date":15,"hours":12,"utc":true},{"year":2024,"month":4,"date":1,"utc":true},{"year":2024,"month":5,"date":16,"hours":12,"utc":true},{"year":2024,"month":7,"date":1,"utc":true},{"year":2024,"month":8,"date":16,"utc":true},{"year":2024,"month":10,"date":1,"utc":true},{"year":2024,"month":11,"date":16,"utc":true},{"year":2025,"month":1,"date":1,"utc":true}],"labels":false,"title":null}},
"y":{"field":"v","type":"quantitative","scale":{"domain":[-103,2163],"nice":false,"zero":false},"axis":{"values":[0,250,500,750,1000,1250,1500,1750,2000],"format":"d","labelExpr":"datum.value % 500 == 0 ? datum.label : ''","title":null}},
"color":{"datum":"4S","title":"Site","scale":{"domain":["7S","10S","8S","2S","3S","4S","6S","5S","9S"],"range":["#1EE3E3","#CC1111","#FFD700","#00EE00","#9B30FF","#FFA500","#0000FF","#EE82EE","#666666"]},"legend":{"orient":"none","legendX":1164,"legendY":216}}}},
{"data":{"name":"s6S"},"title":{"text":"PKBK 6S","color":"#4A86E8","fontSize":15.5,"offset":1.5},"width":363,"height":182,"mark":{"type":"line","strokeWidth":0.9,"invalid":"break-paths-show-domains"},
"encoding":{"x":{"field":"d","type":"temporal","scale":{"type":"utc","domain":[{"year":2023,"month":12,"date":14,"utc":true},{"year":2025,"month":1,"date":19,"utc":true}]},"axis":{"values":[{"year":2024,"month":1,"date":1,"utc":true},{"year":2024,"month":2,"date":15,"hours":12,"utc":true},{"year":2024,"month":4,"date":1,"utc":true},{"year":2024,"month":5,"date":16,"hours":12,"utc":true},{"year":2024,"month":7,"date":1,"utc":true},{"year":2024,"month":8,"date":16,"utc":true},{"year":2024,"month":10,"date":1,"utc":true},{"year":2024,"month":11,"date":16,"utc":true},{"year":2025,"month":1,"date":1,"utc":true}],"labelExpr":"utcdate(datum.value) == 1 ? utcFormat(datum.value, '%b %Y') : ''","title":null}},
"y":{"field":"v","type":"quantitative","scale":{"domain":[-75,1585],"nice":false,"zero":false},"axis":{"values":[0,250,500,750,1000,1250,1500],"format":"d","labelExpr":"datum.value % 500 == 0 ? datum.label : ''","title":null}},
"color":{"datum":"6S","title":"Site","scale":{"domain":["7S","10S","8S","2S","3S","4S","6S","5S","9S"],"range":["#1EE3E3","#CC1111","#FFD700","#00EE00","#9B30FF","#FFA500","#0000FF","#EE82EE","#666666"]},"legend":{"orient":"none","legendX":1164,"legendY":216}}}},
{"data":{"name":"s5S"},"title":{"text":"PKBK 5S","color":"#FF00FF","fontSize":17,"offset":0},"width":363,"height":182,"mark":{"type":"line","strokeWidth":0.9,"invalid":"break-paths-show-domains"},
"encoding":{"x":{"field":"d","type":"temporal","scale":{"type":"utc","domain":[{"year":2023,"month":12,"date":14,"utc":true},{"year":2025,"month":1,"date":19,"utc":true}]},"axis":{"values":[{"year":2024,"month":1,"date":1,"utc":true},{"year":2024,"month":2,"date":15,"hours":12,"utc":true},{"year":2024,"month":4,"date":1,"utc":true},{"year":2024,"month":5,"date":16,"hours":12,"utc":true},{"year":2024,"month":7,"date":1,"utc":true},{"year":2024,"month":8,"date":16,"utc":true},{"year":2024,"month":10,"date":1,"utc":true},{"year":2024,"month":11,"date":16,"utc":true},{"year":2025,"month":1,"date":1,"utc":true}],"labelExpr":"utcdate(datum.value) == 1 ? utcFormat(datum.value, '%b %Y') : ''","title":"Date","titleFontSize":17,"titleColor":"#333333","titlePadding":3}},
"y":{"field":"v","type":"quantitative","scale":{"domain":[-81,1701],"nice":false,"zero":false},"axis":{"values":[0,250,500,750,1000,1250,1500],"format":"d","labelExpr":"datum.value % 500 == 0 ? datum.label : ''","title":null}},
"color":{"datum":"5S","title":"Site","scale":{"domain":["7S","10S","8S","2S","3S","4S","6S","5S","9S"],"range":["#1EE3E3","#CC1111","#FFD700","#00EE00","#9B30FF","#FFA500","#0000FF","#EE82EE","#666666"]},"legend":{"orient":"none","legendX":1164,"legendY":216}}}},
{"data":{"name":"s9S"},"title":{"text":"PKBK 9S","color":"#444444","fontSize":17,"offset":4},"width":363,"height":182,"mark":{"type":"line","strokeWidth":0.9,"invalid":"break-paths-show-domains"},
"encoding":{"x":{"field":"d","type":"temporal","scale":{"type":"utc","domain":[{"year":2023,"month":12,"date":14,"utc":true},{"year":2025,"month":1,"date":19,"utc":true}]},"axis":{"values":[{"year":2024,"month":1,"date":1,"utc":true},{"year":2024,"month":2,"date":15,"hours":12,"utc":true},{"year":2024,"month":4,"date":1,"utc":true},{"year":2024,"month":5,"date":16,"hours":12,"utc":true},{"year":2024,"month":7,"date":1,"utc":true},{"year":2024,"month":8,"date":16,"utc":true},{"year":2024,"month":10,"date":1,"utc":true},{"year":2024,"month":11,"date":16,"utc":true},{"year":2025,"month":1,"date":1,"utc":true}],"labelExpr":"utcdate(datum.value) == 1 ? utcFormat(datum.value, '%b %Y') : ''","title":null}},
"y":{"field":"v","type":"quantitative","scale":{"domain":[-98,2058],"nice":false,"zero":false},"axis":{"values":[0,250,500,750,1000,1250,1500,1750,2000],"format":"d","labelExpr":"datum.value % 500 == 0 ? datum.label : ''","title":null}},
"color":{"datum":"9S","title":"Site","scale":{"domain":["7S","10S","8S","2S","3S","4S","6S","5S","9S"],"range":["#1EE3E3","#CC1111","#FFD700","#00EE00","#9B30FF","#FFA500","#0000FF","#EE82EE","#666666"]},"legend":{"orient":"none","legendX":1164,"legendY":216}}}}
]
}
